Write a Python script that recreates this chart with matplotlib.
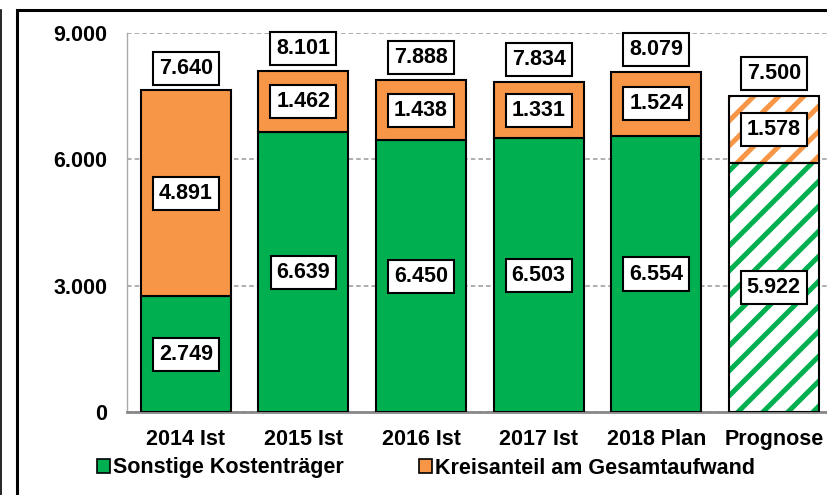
import numpy as np
import matplotlib
matplotlib.use("Agg")
import matplotlib.pyplot as plt
from matplotlib.patches import Rectangle, Patch
from matplotlib.lines import Line2D
from matplotlib import hatch as mhatch
from matplotlib.backend_bases import GraphicsContextBase

plt.rcParams['font.family'] = ['Liberation Sans', 'DejaVu Sans']
plt.rcParams['font.weight'] = 'bold'
plt.rcParams['hatch.linewidth'] = 3.6

# slightly denser stripes than the default hatch
def _hatch_path(self, density=8.0):
    h = self.get_hatch()
    return None if h is None else mhatch.get_path(h, density)
GraphicsContextBase.get_hatch_path = _hatch_path

categories = ['2014 Ist', '2015 Ist', '2016 Ist', '2017 Ist', '2018 Plan', 'Prognose']
sonstige = [2749, 6639, 6450, 6503, 6554, 5922]
kreis = [4891, 1462, 1438, 1331, 1524, 1578]
totals = [7640, 8101, 7888, 7834, 8079, 7500]
yticks = [0, 3000, 6000, 9000]

green = '#00B050'
orange = '#F79646'

def fmt(v):
    return f'{v:,}'.replace(',', '.')

fig = plt.figure(figsize=(8.28, 4.95), dpi=100)
ax = fig.add_axes([127/828, 83/495, 705.6/828, 379/495])

x = np.arange(len(categories))
w = 0.765
n = len(categories)

# solid bars (Ist / Plan)
ax.bar(x[:-1], sonstige[:-1], w, color=green, edgecolor='black', linewidth=1.5, zorder=3)
ax.bar(x[:-1], kreis[:-1], w, bottom=sonstige[:-1], color=orange, edgecolor='black',
       linewidth=1.5, zorder=3)

# hatched Prognose bar
ax.bar(x[-1], sonstige[-1], w, color='white', edgecolor=green, hatch='/', linewidth=0, zorder=3)
ax.bar(x[-1], kreis[-1], w, bottom=sonstige[-1], color='white', edgecolor=orange, hatch='/',
       linewidth=0, zorder=3)
ax.bar(x[-1], sonstige[-1], w, fill=False, edgecolor='black', linewidth=1.5, zorder=4)
ax.bar(x[-1], kreis[-1], w, bottom=sonstige[-1], fill=False, edgecolor='black', linewidth=1.5,
       zorder=4)

box = dict(boxstyle='square,pad=0.28', facecolor='white', edgecolor='black', linewidth=1.5)
for i in range(n):
    ax.text(x[i], sonstige[i] / 2, fmt(sonstige[i]), ha='center', va='center',
            fontsize=15.5, fontweight='bold', bbox=box, zorder=6)
    ax.text(x[i], sonstige[i] + kreis[i] / 2, fmt(kreis[i]), ha='center', va='center',
            fontsize=15.5, fontweight='bold', bbox=box, zorder=6)
    ax.annotate(fmt(totals[i]), (x[i], totals[i]), xytext=(0, 16), textcoords='offset points',
                ha='center', va='center', fontsize=15.5, fontweight='bold', bbox=box, zorder=6)

ax.set_xlim(-0.5, n - 0.5)
ax.set_ylim(0, 9000)
ax.set_yticks(yticks)
ax.set_yticklabels([fmt(v) for v in yticks], fontsize=15.5, fontweight='bold')
ax.set_xticks(x)
ax.set_xticklabels(categories, fontsize=15.5, fontweight='bold')
ax.tick_params(axis='both', length=0)
ax.tick_params(axis='y', pad=14)
ax.tick_params(axis='x', pad=12)

ax.grid(axis='y', linestyle=(0, (3, 2)), color='#999999', linewidth=1.1, zorder=0)
for s in ['top', 'right']:
    ax.spines[s].set_visible(False)
ax.spines['left'].set_color('#aaaaaa')
ax.spines['left'].set_linewidth(1.0)
ax.spines['bottom'].set_color('#888888')
ax.spines['bottom'].set_linewidth(2.0)
ax.set_axisbelow(True)

handles = [Patch(facecolor=green, edgecolor='black', linewidth=1.2),
           Patch(facecolor=orange, edgecolor='black', linewidth=1.2)]
fig.legend(handles, ['Sonstige Kostenträger', 'Kreisanteil am Gesamtaufwand'],
           loc='center left', bbox_to_anchor=(88/828, 1 - 468/495), ncol=2, frameon=False,
           prop={'size': 15.5, 'weight': 'bold'}, handlelength=0.6, handleheight=0.6,
           handletextpad=0.15, columnspacing=3.5, borderaxespad=0)

# outer frame
fig.patches.append(Rectangle((17/828, -0.1), 1.0, 1 - 10/495 + 0.1, transform=fig.transFigure,
                             fill=False, edgecolor='black', linewidth=2.2))
fig.lines.append(Line2D([1.5/828, 1.5/828], [0, 1 - 10/495], transform=fig.transFigure,
                        color='black', linewidth=1.2))

fig.savefig('out.png', dpi=100)
